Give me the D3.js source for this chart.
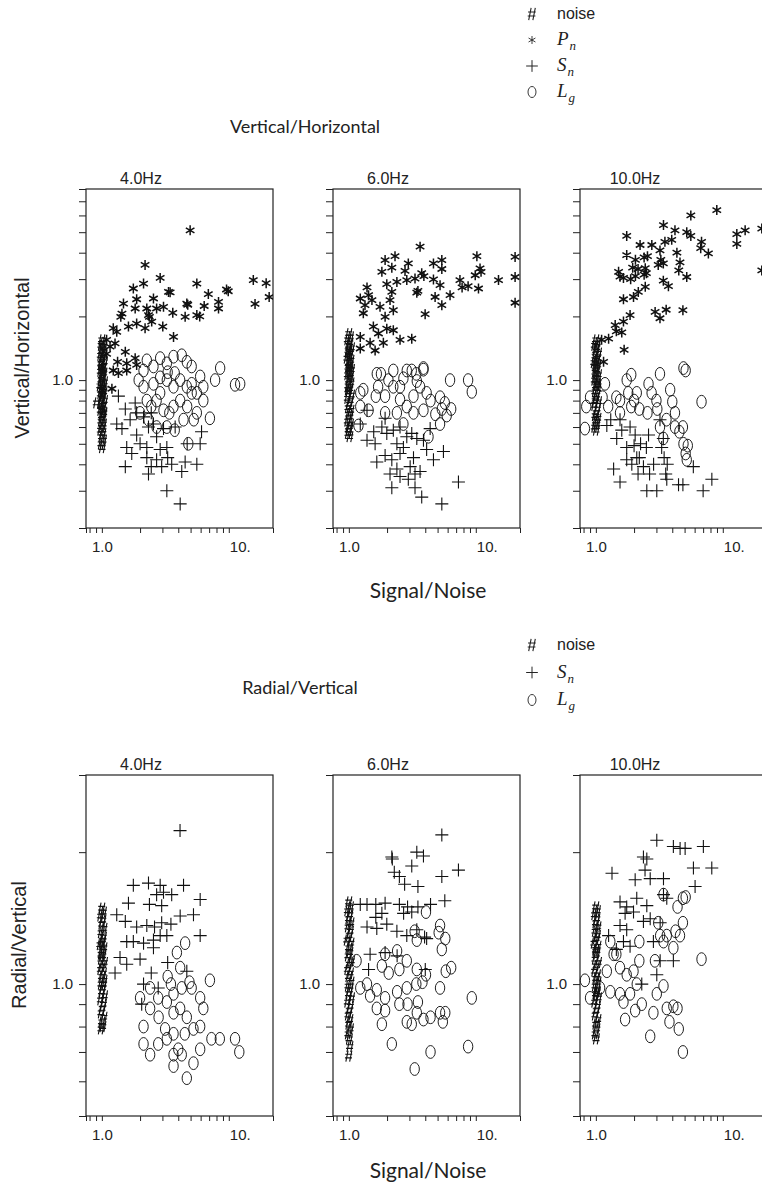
<!DOCTYPE html>
<html>
<head>
<meta charset="utf-8">
<title>Vertical/Horizontal and Radial/Vertical</title>
<script src="https://d3js.org/d3.v7.min.js"></script>
<style>
  body { margin: 0; background: #fff; }
  svg text { font-family: "Liberation Sans", Arial, sans-serif; fill: #222; }
  .title { font-family: Lato, "DejaVu Sans", sans-serif; }
</style>
</head>
<body>
<svg id="chart"></svg>
<script>
// tick values and labels
const freqs = ["4.0Hz", "6.0Hz", "10.0Hz"];
const xTicks = [0.8, 0.9, 1, 2, 3, 4, 5, 6, 7, 8, 9, 10];
const vhTicks = [0.3, 0.4, 0.5, 0.6, 0.7, 0.8, 0.9, 1, 2, 3, 4, 5, 6, 7];
const rvTicks = [0.6, 0.7, 0.8, 0.9, 1, 2];

// Vertical/Horizontal, 4 Hz   [signal/noise, ratio]
const vh4Noise = [[1.00,1.55],[1.02,1.50],[0.99,1.46],[1.03,1.42],[1.00,1.38],[1.04,1.35],[0.98,1.31],[1.02,1.28],[1.00,1.25],[1.05,1.22],[0.99,1.19],[1.03,1.16],[1.01,1.13],[0.98,1.10],[1.04,1.08],[1.00,1.05],[1.02,1.03],[0.99,1.00],[1.05,0.98],[1.01,0.96],[0.97,0.94],[1.03,0.92],[1.00,0.90],[1.04,0.88],[0.98,0.86],[1.02,0.84],[1.00,0.82],[1.05,0.80],[0.99,0.78],[1.03,0.76],[1.01,0.74],[0.98,0.72],[1.04,0.70],[1.00,0.68],[1.02,0.66],[0.99,0.64],[1.03,0.62],[1.01,0.60],[0.98,0.58],[1.02,0.56],[1.00,0.54],[1.03,0.52],[0.99,0.50],[1.01,0.48],[0.91,0.78],[1.00,0.93],[1.02,1.07],[0.99,1.20],[1.01,0.85],[1.03,0.70]];
const vh4Pn = [[4.96,5.1],[2.19,3.5],[2.88,3.04],[2.13,2.86],[1.77,2.71],[5.6,2.86],[3.35,2.61],[3.45,2.6],[6.9,2.55],[9.6,2.68],[9.9,2.63],[15.6,2.97],[16.1,2.29],[19.7,2.87],[20.8,2.47],[2.55,2.43],[1.88,2.41],[1.48,2.3],[4.67,2.3],[4.75,2.27],[6.4,2.24],[8.3,2.34],[8.3,2.18],[5.6,2.03],[5.9,2.0],[4.53,1.99],[3.62,2.08],[3.06,2.22],[2.7,2.18],[2.26,2.18],[2.33,2.03],[2.37,1.99],[2.47,1.89],[3.02,1.79],[2.19,1.76],[1.83,2.18],[1.44,2.06],[1.41,1.99],[1.88,1.85],[1.62,1.79],[1.31,1.69],[1.23,1.76],[3.67,1.6],[1.09,1.55],[1.27,1.49],[1.53,1.36],[1.33,1.22],[1.57,1.2],[1.83,1.27],[1.88,1.18],[1.23,1.11],[1.35,1.08],[1.57,1.11],[1.2,0.91],[1.09,1.33],[1.16,1.44]];
const vh4Sn = [[1.35,0.84],[1.53,0.73],[1.83,0.78],[1.31,0.62],[1.44,0.59],[1.67,0.65],[1.88,0.55],[2.0,0.50],[1.57,0.48],[1.72,0.45],[1.53,0.39],[2.26,0.43],[2.33,0.36],[2.45,0.39],[2.7,0.42],[2.88,0.47],[2.96,0.39],[3.25,0.48],[3.3,0.43],[3.55,0.40],[2.33,0.60],[2.55,0.62],[3.06,0.59],[2.13,0.67],[2.45,0.70],[4.26,0.37],[4.53,0.41],[5.6,0.40],[5.95,0.50],[6.1,0.57],[4.7,0.50],[3.25,0.30],[4.14,0.26],[1.88,0.70],[3.78,0.60],[2.7,0.54],[2.26,0.48]];
const vh4Lg = [[2.13,1.11],[2.26,1.24],[2.55,1.16],[2.88,1.27],[3.25,1.2],[3.67,1.29],[4.26,1.31],[4.67,1.22],[5.1,1.16],[5.95,1.04],[6.3,0.93],[6.3,0.80],[5.6,0.70],[7.1,0.66],[8.55,1.14],[7.8,1.0],[11.2,0.95],[12.3,0.96],[2.13,0.93],[2.26,0.80],[2.55,0.96],[2.88,0.87],[3.25,1.0],[3.67,0.93],[4.14,1.0],[4.67,0.93],[5.1,0.87],[4.14,0.80],[3.06,0.72],[3.67,0.75],[4.4,0.65],[4.8,0.50],[2.0,0.70],[2.33,0.65],[2.7,0.60],[3.25,0.60],[3.4,0.70],[3.75,0.58],[2.45,0.75],[2.88,1.03],[3.3,1.09],[3.75,1.08],[5.1,0.96],[5.6,0.87],[1.95,1.0],[2.7,0.80],[4.7,0.75],[5.3,0.65]];

// Vertical/Horizontal, 6 Hz
const vh6Noise = [[1.00,1.66],[1.03,1.60],[0.98,1.55],[1.02,1.50],[1.00,1.46],[1.05,1.42],[0.99,1.38],[1.03,1.34],[1.01,1.30],[0.97,1.27],[1.04,1.24],[1.00,1.21],[1.02,1.18],[0.99,1.15],[1.05,1.12],[1.01,1.09],[0.98,1.06],[1.03,1.03],[1.00,1.00],[1.04,0.97],[0.99,0.94],[1.02,0.91],[1.00,0.88],[1.05,0.85],[0.98,0.82],[1.03,0.80],[1.01,0.77],[0.99,0.74],[1.04,0.72],[1.00,0.69],[1.02,0.67],[0.98,0.64],[1.03,0.62],[1.00,0.60],[1.01,0.58],[0.99,0.56],[1.02,0.54],[1.00,1.36],[1.02,1.12],[0.99,0.90]];
const vh6Pn = [[3.64,4.27],[1.93,3.69],[2.31,3.85],[2.18,3.4],[2.94,3.56],[2.77,3.28],[1.82,3.25],[3.75,3.2],[3.9,3.1],[4.64,3.56],[5.4,3.69],[5.4,3.35],[4.64,2.99],[5.23,2.81],[10.2,3.85],[10.8,3.37],[11.0,3.25],[9.9,3.13],[7.5,2.97],[7.8,2.74],[8.7,2.78],[10.5,2.71],[15.1,2.97],[20.4,3.82],[20.4,3.07],[20.4,2.32],[2.86,2.97],[2.39,2.91],[1.99,2.84],[3.32,3.02],[1.39,2.74],[1.43,2.52],[1.23,2.43],[1.34,2.26],[1.3,2.07],[1.52,2.39],[2.18,2.61],[2.11,2.39],[1.76,2.22],[2.24,2.14],[1.93,1.99],[3.43,2.59],[3.5,2.64],[4.78,2.47],[5.4,2.26],[6.27,2.52],[3.99,2.05],[1.56,1.79],[1.71,1.66],[1.99,1.75],[2.24,1.72],[1.23,1.6],[1.47,1.5],[1.87,1.5],[2.53,1.55],[3.13,1.57],[1.23,1.41],[1.61,1.38]];
const vh6Sn = [[1.39,0.72],[1.23,0.62],[1.39,0.52],[1.61,0.50],[1.66,0.41],[1.93,0.44],[2.18,0.42],[2.11,0.36],[2.39,0.38],[2.53,0.35],[2.18,0.31],[3.32,0.31],[3.75,0.28],[5.4,0.26],[7.3,0.33],[5.56,0.46],[4.64,0.42],[4.1,0.47],[3.87,0.52],[4.37,0.59],[3.64,0.37],[3.32,0.36],[3.04,0.39],[3.23,0.43],[2.69,0.48],[2.86,0.54],[2.39,0.50],[1.99,0.56],[1.82,0.60],[2.24,0.58],[2.53,0.60],[3.13,0.56],[3.43,0.53],[1.93,0.66],[1.57,0.57],[2.53,0.45],[2.94,0.34]];
const vh6Lg = [[1.23,0.87],[1.3,0.9],[1.43,0.72],[1.23,0.75],[1.19,0.61],[1.66,1.07],[1.79,1.07],[2.05,1.0],[2.24,1.11],[2.69,1.02],[2.86,1.11],[3.13,1.11],[3.4,1.07],[3.87,1.14],[3.43,0.99],[3.64,0.93],[4.1,0.87],[3.87,0.72],[2.53,0.93],[2.24,0.93],[1.93,0.84],[1.7,0.93],[1.63,0.84],[1.93,0.70],[2.39,0.70],[2.86,0.75],[3.23,0.70],[2.69,0.62],[3.23,0.84],[2.53,0.81],[5.23,0.83],[5.7,0.78],[5.4,0.73],[5.9,0.68],[5.23,0.62],[6.4,0.73],[4.24,0.54],[6.27,1.0],[8.7,1.0],[9.3,0.88],[3.87,1.12],[4.4,0.8],[4.8,0.69]];

// Vertical/Horizontal, 10 Hz
const vh10Noise = [[1.00,1.55],[1.03,1.50],[0.98,1.46],[1.02,1.42],[1.00,1.38],[1.05,1.34],[0.99,1.30],[1.03,1.27],[1.01,1.24],[0.97,1.21],[1.04,1.18],[1.00,1.15],[1.02,1.12],[0.99,1.09],[1.05,1.06],[1.01,1.03],[0.98,1.00],[1.03,0.97],[1.00,0.94],[1.04,0.91],[0.99,0.88],[1.02,0.85],[1.00,0.82],[1.05,0.79],[0.98,0.76],[1.03,0.73],[1.01,0.70],[0.99,0.68],[1.04,0.66],[1.00,0.64],[1.02,0.62],[0.98,0.60],[1.01,0.58],[1.00,1.20],[1.03,0.95],[0.99,0.80]];
const vh10Pn = [[8.97,6.36],[5.6,6.0],[3.41,5.4],[4.2,5.1],[5.2,5.0],[5.6,4.8],[6.8,4.5],[6.7,4.2],[7.7,3.97],[1.75,4.8],[2.23,4.35],[2.76,4.35],[3.2,4.1],[3.5,4.5],[3.96,4.6],[4.35,4.0],[1.75,3.9],[2.05,3.7],[2.4,3.8],[2.55,3.85],[3.25,3.7],[3.4,3.56],[4.6,3.6],[4.5,3.3],[5.2,3.07],[1.95,3.4],[2.15,3.35],[2.45,3.38],[3.1,3.5],[1.51,3.25],[1.55,3.08],[1.65,3.04],[1.88,3.0],[2.05,3.1],[2.4,3.15],[2.5,3.2],[12.9,4.9],[15.0,5.1],[12.9,4.4],[20.3,5.2],[20.3,3.3],[3.4,2.95],[3.73,2.78],[2.45,2.76],[2.16,2.61],[1.98,2.47],[1.65,2.41],[2.93,2.1],[3.2,1.96],[3.58,2.15],[4.85,2.14],[1.86,2.03],[1.65,1.89],[1.42,1.82],[1.45,1.7],[1.6,1.68],[1.26,1.57],[1.11,1.55],[1.67,1.39],[1.15,1.22]];
const vh10Sn = [[1.46,0.53],[1.6,0.58],[1.38,0.38],[1.55,0.33],[1.75,0.48],[2.0,0.49],[2.1,0.43],[1.75,0.42],[1.92,0.40],[2.2,0.43],[2.37,0.39],[2.15,0.36],[2.04,0.55],[1.86,0.60],[1.55,0.65],[2.52,0.30],[3.02,0.30],[3.62,0.34],[3.55,0.36],[4.48,0.32],[4.85,0.32],[7.0,0.30],[8.2,0.34],[5.86,0.39],[3.45,0.43],[3.3,0.48],[3.4,0.53],[3.2,0.65],[2.65,0.36],[2.85,0.40],[2.5,0.48],[3.65,0.40],[1.22,0.61],[1.31,0.65],[2.6,0.55],[2.25,0.50]];
const vh10Lg = [[0.82,0.59],[0.84,0.75],[0.9,0.83],[1.18,0.96],[1.13,0.83],[1.25,0.75],[1.45,0.83],[1.55,0.80],[1.75,1.0],[1.8,0.87],[2.0,0.80],[2.1,0.87],[1.9,1.06],[2.2,0.73],[2.6,0.96],[2.75,0.87],[3.0,0.80],[3.2,1.07],[3.85,0.90],[4.0,0.79],[4.2,0.70],[4.9,1.14],[5.1,1.11],[6.8,0.79],[3.05,0.73],[3.2,0.60],[3.4,0.53],[4.2,0.60],[4.55,0.57],[4.85,0.60],[4.9,0.50],[5.3,0.49],[5.1,0.45],[5.2,0.42],[1.9,0.75],[1.55,0.70],[2.55,0.70],[3.6,0.65]];

// Radial/Vertical, 4 Hz
const rv4Noise = [[1.00,1.49],[1.03,1.46],[0.98,1.43],[1.02,1.40],[1.00,1.37],[1.04,1.34],[0.99,1.31],[1.03,1.28],[1.01,1.26],[0.97,1.23],[1.04,1.21],[1.00,1.19],[1.02,1.16],[0.99,1.14],[1.05,1.12],[1.01,1.10],[0.98,1.08],[1.03,1.06],[1.00,1.04],[1.04,1.02],[0.99,1.00],[1.02,0.98],[1.00,0.96],[1.05,0.94],[0.98,0.92],[1.03,0.90],[1.01,0.88],[0.99,0.86],[1.04,0.84],[1.00,0.82],[1.02,0.80],[0.99,0.79],[1.01,1.24],[1.03,1.00],[0.99,1.17]];
const rv4Sn = [[4.13,2.24],[1.77,1.68],[2.33,1.70],[2.88,1.68],[4.4,1.68],[2.7,1.6],[3.06,1.62],[3.55,1.6],[5.95,1.56],[1.62,1.53],[2.37,1.52],[2.96,1.51],[5.27,1.44],[4.14,1.43],[1.31,1.44],[1.53,1.39],[1.88,1.35],[2.26,1.36],[2.96,1.38],[3.5,1.37],[5.95,1.29],[1.57,1.25],[1.77,1.25],[2.13,1.24],[2.55,1.26],[2.88,1.29],[3.25,1.29],[1.39,1.15],[1.57,1.11],[2.0,1.14],[1.27,1.06],[2.45,1.06],[3.3,1.12],[4.67,1.07],[2.13,1.0],[2.78,0.98],[2.06,0.90],[2.6,1.35],[2.55,1.21]];
const rv4Lg = [[4.53,1.24],[3.9,1.18],[4.14,1.09],[3.5,1.0],[3.3,1.04],[2.4,0.98],[2.0,0.93],[3.67,0.95],[4.26,0.98],[4.9,1.01],[7.1,1.02],[5.95,0.93],[6.3,0.88],[2.4,0.88],[2.8,0.84],[2.13,0.80],[3.15,0.79],[3.67,0.86],[4.14,0.88],[4.67,0.84],[5.27,0.79],[5.95,0.80],[2.13,0.73],[2.4,0.69],[2.78,0.73],[3.25,0.75],[3.67,0.77],[4.0,0.71],[4.5,0.77],[5.95,0.71],[7.3,0.75],[8.5,0.75],[11.2,0.75],[12.1,0.70],[3.67,0.69],[4.26,0.69],[3.67,0.65],[5.27,0.66],[4.67,0.61],[5.1,0.98],[2.78,0.93],[3.25,0.91]];

// Radial/Vertical, 6 Hz
const rv6Noise = [[1.00,1.54],[1.03,1.50],[0.98,1.47],[1.02,1.44],[1.00,1.41],[1.04,1.38],[0.99,1.35],[1.03,1.32],[1.01,1.29],[0.97,1.26],[1.04,1.24],[1.00,1.21],[1.02,1.18],[0.99,1.16],[1.05,1.13],[1.01,1.11],[0.98,1.08],[1.03,1.06],[1.00,1.04],[1.04,1.01],[0.99,0.99],[1.02,0.97],[1.00,0.95],[1.05,0.93],[0.98,0.91],[1.03,0.89],[1.01,0.87],[0.99,0.85],[1.02,0.83],[1.00,0.81],[1.03,0.79],[0.99,0.77],[1.01,0.75],[1.02,0.72],[1.00,0.685]];
const rv6Sn = [[5.4,2.19],[2.18,1.95],[2.2,1.93],[3.43,2.0],[3.87,1.96],[7.3,1.82],[5.4,1.76],[3.13,1.86],[2.28,1.80],[2.5,1.76],[2.75,1.69],[3.5,1.67],[1.23,1.52],[1.39,1.52],[1.63,1.52],[1.93,1.53],[2.5,1.52],[2.9,1.5],[3.5,1.5],[4.4,1.52],[5.7,1.55],[1.63,1.42],[1.82,1.45],[2.7,1.45],[3.13,1.46],[1.39,1.35],[1.66,1.34],[1.99,1.37],[2.39,1.32],[2.86,1.29],[3.43,1.33],[4.1,1.27],[1.47,1.17],[1.93,1.18],[1.43,1.08],[2.4,1.16],[4.0,1.08],[3.95,1.28]];
const rv6Lg = [[5.23,1.36],[5.1,1.31],[5.75,1.27],[5.4,1.2],[6.4,1.09],[5.8,1.07],[3.3,1.32],[3.43,1.26],[4.05,1.46],[1.15,1.13],[1.93,1.17],[2.4,1.19],[1.82,1.1],[2.06,1.06],[2.5,1.08],[2.86,1.13],[3.43,1.08],[4.05,1.05],[1.23,0.98],[1.39,1.0],[1.47,0.94],[1.66,0.97],[1.93,0.93],[2.4,0.96],[2.86,0.98],[3.4,1.0],[3.8,1.01],[5.23,0.98],[9.3,0.93],[1.66,0.88],[1.93,0.87],[2.5,0.9],[2.9,0.9],[3.5,0.91],[3.43,0.86],[2.86,0.82],[3.13,0.81],[3.87,0.83],[4.4,0.84],[5.23,0.86],[5.75,0.86],[5.5,0.82],[1.82,0.81],[2.18,0.73],[3.3,0.64],[4.4,0.7],[8.7,0.72]];

// Radial/Vertical, 10 Hz
const rv10Noise = [[1.00,1.50],[1.03,1.47],[0.98,1.44],[1.02,1.41],[1.00,1.38],[1.04,1.35],[0.99,1.32],[1.03,1.29],[1.01,1.27],[0.97,1.24],[1.04,1.22],[1.00,1.19],[1.02,1.17],[0.99,1.14],[1.05,1.12],[1.01,1.10],[0.98,1.07],[1.03,1.05],[1.00,1.03],[1.04,1.01],[0.99,0.99],[1.02,0.97],[1.00,0.95],[1.05,0.93],[0.98,0.91],[1.03,0.89],[1.01,0.87],[0.99,0.85],[1.04,0.83],[1.00,0.81],[1.02,0.79],[0.99,0.77],[1.01,0.75],[1.00,1.20],[1.03,0.96]];
const rv10Sn = [[3.02,2.13],[4.08,2.06],[4.61,2.04],[5.05,2.04],[7.03,2.06],[2.37,1.95],[2.52,1.93],[1.34,1.79],[2.44,1.82],[5.87,1.84],[8.19,1.84],[2.04,1.73],[2.68,1.74],[3.41,1.74],[6.05,1.67],[1.55,1.54],[1.75,1.5],[2.1,1.57],[2.52,1.51],[1.98,1.46],[2.37,1.39],[1.55,1.36],[1.75,1.33],[1.26,1.29],[1.65,1.25],[1.86,1.22],[3.02,1.05],[3.21,1.13],[2.3,1.0],[3.21,1.38],[2.84,1.25],[4.08,1.13],[3.41,1.6],[3.62,1.57],[2.68,1.41],[1.45,1.2],[1.7,1.45]];
const rv10Lg = [[0.82,1.02],[0.9,0.93],[1.3,0.96],[1.08,0.98],[1.22,1.07],[1.38,1.17],[1.55,1.09],[1.75,1.05],[1.98,1.07],[1.55,0.95],[1.65,0.91],[1.86,0.95],[1.7,0.83],[2.04,0.87],[2.3,0.9],[2.1,1.0],[2.2,1.13],[2.2,1.25],[2.68,0.76],[2.84,0.86],[3.02,0.95],[3.41,0.99],[2.92,1.13],[3.21,1.29],[3.41,1.25],[3.1,1.38],[3.62,1.29],[4.08,1.21],[4.24,1.32],[4.6,1.29],[4.85,1.38],[4.4,1.5],[4.85,1.57],[5.1,1.58],[3.62,0.88],[4.08,0.89],[4.4,0.88],[3.8,0.82],[4.5,0.79],[4.85,0.70],[6.8,1.14],[3.41,1.6],[1.3,1.25],[1.45,1.17]];

// layout
const W = 762, H = 1190;
const lefts = [86, 333, 580], panelW = 187;
const topBox = { top: 189, bottom: 528 };
const botBox = { top: 775, bottom: 1116 };

const svg = d3.select("#chart").attr("width", W).attr("height", H);

const markers = {
  noise: "M-3,5.5L-0.8,-5.5M0.8,5.5L3,-5.5M-3.6,-1.8H3.4M-3.9,1.8H3.1",
  pn: "M0,-5V5M-4.3,-2.5L4.3,2.5M-4.3,2.5L4.3,-2.5",
  sn: "M-6.5,0H6.5M0,-6.5V6.5"
};

function drawPanel(left, box, yDomain, yTicks, title, noise, sn, lg, pn) {
  const x = d3.scaleLog().domain([0.75, 22.3]).range([left, left + panelW]);
  const y = d3.scaleLog().domain(yDomain).range([box.bottom, box.top]);
  const g = svg.append("g");

  // data
  const clip = "clip" + left + box.top;
  g.append("clipPath").attr("id", clip).append("rect")
    .attr("x", left - 6).attr("y", box.top).attr("width", panelW + 6).attr("height", box.bottom - box.top);
  const pts = g.append("g").attr("clip-path", `url(#${clip})`)
    .attr("fill", "none").attr("stroke", "#111");

  pts.selectAll(".lg").data(lg).join("ellipse")
    .attr("cx", d => x(d[0])).attr("cy", d => y(d[1]))
    .attr("rx", 4.7).attr("ry", 6.4).attr("stroke-width", 0.95);
  pts.selectAll(".sn").data(sn).join("path")
    .attr("transform", d => `translate(${x(d[0])},${y(d[1])})`)
    .attr("d", markers.sn).attr("stroke-width", 1.1);
  if (pn) {
    pts.selectAll(".pn").data(pn).join("path")
      .attr("transform", d => `translate(${x(d[0])},${y(d[1])})`)
      .attr("d", markers.pn).attr("stroke-width", 1.5);
  }
  pts.selectAll(".noise").data(noise).join("path")
    .attr("transform", d => `translate(${x(d[0])},${y(d[1])})`)
    .attr("d", markers.noise).attr("stroke-width", 1.1);

  // frame
  g.append("rect").attr("x", left).attr("y", box.top)
    .attr("width", panelW).attr("height", box.bottom - box.top)
    .attr("fill", "none").attr("stroke", "#222").attr("stroke-width", 1.2);

  // axes
  const ya = g.append("g").attr("transform", `translate(${left},0)`)
    .call(d3.axisLeft(y).tickValues(yTicks.concat(yDomain)).tickSize(7).tickSizeOuter(0).tickPadding(6)
      .tickFormat(d => d === 1 ? "1.0" : ""));
  const xa = g.append("g").attr("transform", `translate(0,${box.bottom})`)
    .call(d3.axisBottom(x).tickValues(xTicks.concat(x.domain())).tickSize(5).tickSizeOuter(0).tickPadding(8)
      .tickFormat(d => d === 1 ? "1.0" : d === 10 ? "10." : ""));
  [ya, xa].forEach(a => {
    a.select(".domain").remove();
    a.selectAll("line").attr("stroke", "#222");
    a.selectAll("text").attr("font-size", 15).attr("fill", "#333");
  });
  xa.selectAll("text").attr("dx", d => d === 10 ? 11 : 0);

  g.append("text").attr("x", left + 55).attr("y", box.top - 5)
    .attr("text-anchor", "middle").attr("font-size", 16).text(title);
}

const vhData = [[vh4Noise, vh4Sn, vh4Lg, vh4Pn], [vh6Noise, vh6Sn, vh6Lg, vh6Pn], [vh10Noise, vh10Sn, vh10Lg, vh10Pn]];
const rvData = [[rv4Noise, rv4Sn, rv4Lg], [rv6Noise, rv6Sn, rv6Lg], [rv10Noise, rv10Sn, rv10Lg]];

freqs.forEach((f, i) => {
  drawPanel(lefts[i], topBox, [0.2, 8], vhTicks, f, ...vhData[i]);
  drawPanel(lefts[i], botBox, [0.5, 3], rvTicks, f, ...rvData[i]);
});

// titles
svg.append("text").attr("class", "title").attr("x", 305).attr("y", 133)
  .attr("text-anchor", "middle").attr("font-size", 18).text("Vertical/Horizontal");
svg.append("text").attr("class", "title").attr("x", 300).attr("y", 694)
  .attr("text-anchor", "middle").attr("font-size", 18).text("Radial/Vertical");
[598, 1178].forEach(yy => svg.append("text").attr("class", "title").attr("x", 428).attr("y", yy)
  .attr("text-anchor", "middle").attr("font-size", 21).text("Signal/Noise"));
svg.append("text").attr("transform", "translate(29,358) rotate(-90)")
  .attr("text-anchor", "middle").attr("font-size", 20).text("Vertical/Horizontal");
svg.append("text").attr("transform", "translate(26,945) rotate(-90)")
  .attr("text-anchor", "middle").attr("font-size", 20).text("Radial/Vertical");

// legends
function legend(rows, y0, step) {
  const g = svg.append("g");
  rows.forEach((r, i) => {
    const yy = y0 + i * step;
    if (r.key === "lg") {
      g.append("ellipse").attr("cx", 532).attr("cy", yy).attr("rx", 4).attr("ry", 5.5)
        .attr("fill", "none").attr("stroke", "#222").attr("stroke-width", 0.9);
    } else {
      const s = r.key === "pn" ? 0.8 : r.key === "noise" ? 1.1 : 0.9;
      g.append("path").attr("transform", `translate(532,${yy}) scale(${s})`).attr("d", markers[r.key])
        .attr("fill", "none").attr("stroke", "#222").attr("stroke-width", r.key === "noise" ? 1 : 1.1);
    }
    const t = g.append("text").attr("x", 557).attr("y", yy + 5);
    if (r.sub) {
      t.append("tspan").attr("font-family", "'Liberation Serif', serif").attr("font-style", "italic")
        .attr("font-size", 19).text(r.label);
      t.append("tspan").attr("font-family", "'Liberation Serif', serif").attr("font-style", "italic")
        .attr("font-size", 13).attr("dy", 5).attr("dx", 1).text(r.sub);
    } else {
      t.attr("font-size", 16).text(r.label);
    }
  });
}
legend([{ key: "noise", label: "noise" }, { key: "pn", label: "P", sub: "n" },
        { key: "sn", label: "S", sub: "n" }, { key: "lg", label: "L", sub: "g" }], 14, 26);
legend([{ key: "noise", label: "noise" }, { key: "sn", label: "S", sub: "n" },
        { key: "lg", label: "L", sub: "g" }], 645, 27.5);
</script>
</body>
</html>
